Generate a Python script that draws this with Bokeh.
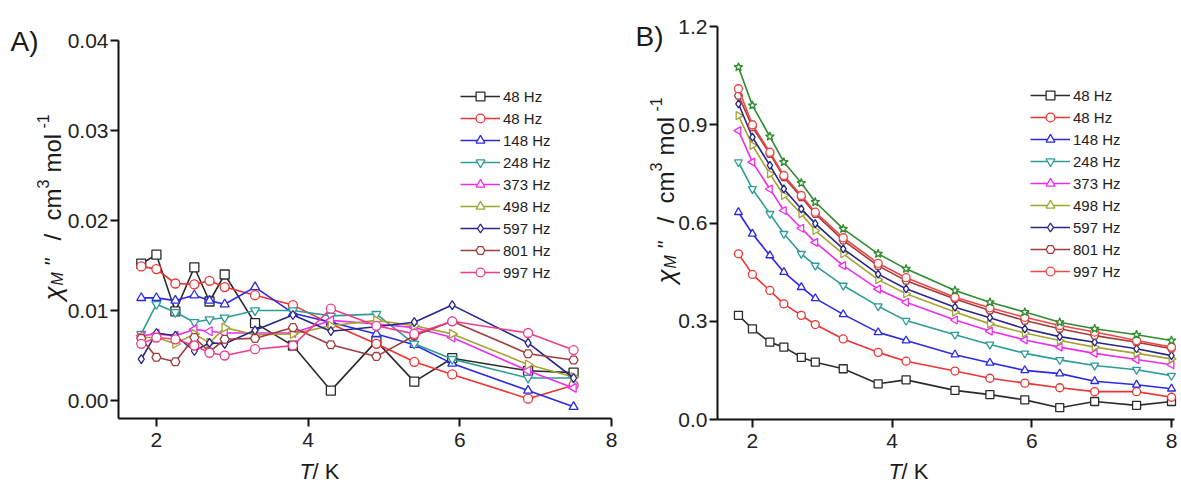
import numpy as np
from bokeh.plotting import figure
from bokeh.models import Range1d, Label, Legend, LegendItem, FixedTicker, NumeralTickFormatter
from bokeh.layouts import row
from bokeh.embed import file_html
from bokeh.resources import INLINE

FONT = "Liberation Sans"

# ---------------- data ----------------
series_labels = ["48 Hz", "48 Hz", "148 Hz", "248 Hz", "373 Hz", "498 Hz", "597 Hz", "801 Hz", "997 Hz"]

T_A = [1.8, 2.0, 2.25, 2.5, 2.7, 2.9, 3.3, 3.8, 4.3, 4.9, 5.4, 5.9, 6.9, 7.5]
A_48a = [0.0152, 0.0162, 0.0099, 0.0148, 0.0110, 0.0140, 0.0086, 0.0061, 0.0011, 0.0066, 0.0021, 0.0047, 0.0033, 0.0031]
A_48b = [0.0149, 0.0146, 0.0130, 0.0129, 0.0133, 0.0126, 0.0117, 0.0106, 0.0085, 0.0063, 0.0043, 0.0029, 0.0002, 0.0017]
A_148 = [0.0114, 0.0114, 0.0111, 0.0117, 0.0111, 0.0107, 0.0126, 0.0097, 0.0087, 0.0074, 0.0062, 0.0041, 0.0011, -0.0007]
A_248 = [0.0074, 0.0107, 0.0098, 0.0087, 0.0090, 0.0092, 0.0100, 0.0100, 0.0094, 0.0096, 0.0063, 0.0046, 0.0025, 0.0025]
A_373 = [0.0072, 0.0074, 0.0072, 0.0079, 0.0077, 0.0075, 0.0075, 0.0075, 0.0089, 0.0085, 0.0081, 0.0070, 0.0033, 0.0014]
A_498 = [0.0070, 0.0070, 0.0063, 0.0074, 0.0064, 0.0081, 0.0073, 0.0074, 0.0083, 0.0089, 0.0083, 0.0074, 0.0040, 0.0026]
A_597 = [0.0046, 0.0075, 0.0072, 0.0055, 0.0064, 0.0063, 0.0078, 0.0095, 0.0077, 0.0082, 0.0087, 0.0106, 0.0064, 0.0025]
A_801 = [0.0069, 0.0048, 0.0043, 0.0070, 0.0054, 0.0068, 0.0069, 0.0081, 0.0062, 0.0049, 0.0072, 0.0088, 0.0052, 0.0045]
A_997 = [0.0063, 0.0070, 0.0068, 0.0061, 0.0053, 0.0050, 0.0057, 0.0061, 0.0102, 0.0083, 0.0074, 0.0088, 0.0075, 0.0056]

T_B = [1.8, 2.0, 2.25, 2.45, 2.7, 2.9, 3.3, 3.8, 4.2, 4.9, 5.4, 5.9, 6.4, 6.9, 7.5, 8.0]
B_48a = [0.318, 0.277, 0.236, 0.221, 0.190, 0.175, 0.155, 0.109, 0.121, 0.089, 0.076, 0.060, 0.036, 0.055, 0.043, 0.055]
B_48b = [0.506, 0.443, 0.394, 0.353, 0.318, 0.290, 0.246, 0.205, 0.178, 0.148, 0.126, 0.111, 0.097, 0.085, 0.085, 0.068]
B_148 = [0.633, 0.567, 0.501, 0.450, 0.404, 0.370, 0.321, 0.266, 0.241, 0.198, 0.173, 0.150, 0.140, 0.117, 0.106, 0.094]
B_248 = [0.786, 0.704, 0.628, 0.567, 0.506, 0.470, 0.409, 0.346, 0.302, 0.259, 0.229, 0.202, 0.182, 0.165, 0.152, 0.134]
B_373 = [0.882, 0.786, 0.704, 0.638, 0.584, 0.541, 0.470, 0.398, 0.358, 0.304, 0.270, 0.243, 0.221, 0.202, 0.183, 0.167]
B_498 = [0.928, 0.837, 0.750, 0.684, 0.628, 0.577, 0.506, 0.427, 0.384, 0.328, 0.292, 0.264, 0.241, 0.221, 0.202, 0.185]
B_597 = [0.964, 0.862, 0.776, 0.704, 0.643, 0.598, 0.521, 0.444, 0.399, 0.343, 0.311, 0.277, 0.253, 0.236, 0.216, 0.195]
B_801 = [0.989, 0.893, 0.811, 0.740, 0.679, 0.628, 0.547, 0.469, 0.424, 0.368, 0.333, 0.302, 0.277, 0.256, 0.236, 0.216]
B_997 = [1.010, 0.900, 0.816, 0.745, 0.684, 0.633, 0.555, 0.477, 0.433, 0.373, 0.341, 0.312, 0.287, 0.267, 0.241, 0.221]
B_top = [1.076, 0.959, 0.864, 0.786, 0.722, 0.664, 0.582, 0.506, 0.460, 0.394, 0.358, 0.328, 0.297, 0.277, 0.259, 0.241]

x_ticks = [2, 4, 6, 8]
yA_ticks = [0.0, 0.01, 0.02, 0.03, 0.04]
yB_ticks = [0.0, 0.3, 0.6, 0.9, 1.2]

# ---------------- styles ----------------
STYLES_A = [
    ("#2b2b2b", "square", 0.0),
    ("#ee3333", "circle", 0.0),
    ("#2a2ae6", "triangle", 0.0),
    ("#2e9c96", "inverted_triangle", 0.0),
    ("#ee2cee", "triangle", np.pi / 2),
    ("#a3a332", "triangle", -np.pi / 2),
    ("#26268c", "diamond", 0.0),
    ("#a03c3c", "hex", 0.0),
    ("#f03c8c", "circle", 0.0),
]
STYLES_B = list(STYLES_A)
STYLES_B[8] = ("#f04646", "circle", 0.0)
STAR_STYLE = ("#2e8b2e", "star", 0.0)

H = 484
SPLIT = 628


def make_fig(width, canvas_x0, frame_px, data_x, frame_py, data_y, xbounds, ybounds):
    """Frame covers the whole canvas; axes are drawn at fixed locations."""
    (px0, px1), (dx0, dx1) = frame_px, data_x
    (py0, py1), (dy0, dy1) = frame_py, data_y  # py0 = pixel of dy0 (bottom), py1 = pixel of dy1 (top)
    sx = (px1 - px0) / (dx1 - dx0)
    sy = (py0 - py1) / (dy1 - dy0)
    x_start = dx0 - (px0 - canvas_x0) / sx
    x_end = dx0 + (canvas_x0 + width - px0) / sx
    y_start = dy0 - (H - py0) / sy
    y_end = dy0 + py0 / sy
    p = figure(width=width, height=H, x_range=Range1d(x_start, x_end), y_range=Range1d(y_start, y_end),
               output_backend="svg", toolbar_location=None,
               min_border_left=0, min_border_right=0, min_border_top=0, min_border_bottom=0)
    p.grid.visible = False
    p.outline_line_color = None
    p.background_fill_color = "white"
    p.border_fill_color = "white"
    p.xaxis[0].fixed_location = dy0
    p.yaxis[0].fixed_location = dx0
    p.xaxis[0].bounds = xbounds
    p.yaxis[0].bounds = ybounds
    for ax in (p.xaxis[0], p.yaxis[0]):
        ax.axis_line_width = 2
        ax.axis_line_color = "#111111"
        ax.major_tick_line_width = 2
        ax.major_tick_line_color = "#111111"
        ax.major_tick_out = 8
        ax.major_tick_in = 0
        ax.minor_tick_line_color = None
        ax.major_label_text_font = FONT
        ax.major_label_text_font_size = "21px"
        ax.major_label_text_color = "#222222"
    p.xaxis[0].ticker = FixedTicker(ticks=x_ticks)
    p.xaxis[0].formatter = NumeralTickFormatter(format="0")
    p.xaxis[0].major_label_standoff = 6
    p.yaxis[0].major_label_standoff = 2

    def conv(px, py):
        return dx0 + (px - px0) / sx, dy0 + (py0 - py) / sy
    return p, conv


def add_series(p, T, ys, styles, names, size):
    items = []
    for y, (col, mk, ang), name in zip(ys, styles, names):
        ln = p.line(T, y, line_color=col, line_width=1.6)
        sc = p.scatter(T, y, marker=mk, angle=ang, size=size, line_color=col,
                       fill_color="white", line_width=1.3)
        if name is not None:
            items.append(LegendItem(label=name, renderers=[ln, sc]))
    return items


def add_legend(p, items, loc):
    lg = Legend(items=items, location=loc, padding=0, margin=0, spacing=0,
                glyph_width=40, glyph_height=22, label_height=22, label_standoff=3,
                label_text_font=FONT, label_text_font_size="15px", label_text_color="#222222",
                border_line_color=None, background_fill_alpha=0)
    p.add_layout(lg)


def label(p, conv, px, py, text, size, italic=False, angle=0.0):
    x, y = conv(px, py)
    p.add_layout(Label(x=x, y=y, text=text, angle=angle, text_font=FONT,
                       text_font_size=f"{size}px",
                       text_font_style="italic" if italic else "normal",
                       text_align="left", text_baseline="alphabetic", text_color="#1a1a1a"))


def y_label(p, conv, bx, y0):
    a = np.pi / 2
    pieces = [
        ("\u03c7", 26, True, 0, 0),
        ("M", 16, True, 5, 15),
        ('"', 22, True, 0, 34),
        ("/", 24, False, 0, 60),
        ("cm", 24, False, 0, 80),
        ("3", 16, False, -10, 112),
        ("mol", 24, False, 0, 128),
        ("-1", 16, False, -10, 172),
    ]
    for txt, sz, it, dx, dy in pieces:
        label(p, conv, bx + dx, y0 - dy, txt, sz, it, a)


# ---------------- panel A ----------------
pA, convA = make_fig(SPLIT, 0, (118, 611), (1.5, 8.0), (418, 40), (-0.002, 0.04),
                     (1.5, 8.0), (-0.002, 0.04))
pA.yaxis[0].ticker = FixedTicker(ticks=yA_ticks)
pA.yaxis[0].formatter = NumeralTickFormatter(format="0.00")
itemsA = add_series(pA, T_A, [A_48a, A_48b, A_148, A_248, A_373, A_498, A_597, A_801, A_997],
                    STYLES_A, series_labels, 9)
add_legend(pA, itemsA, (460, 201))
label(pA, convA, 10, 41, "A)", 28)
label(pA, convA, 299, 471, "T", 22, True)
label(pA, convA, 312, 471, " / K", 22)
y_label(pA, convA, 52, 300)

# ---------------- panel B ----------------
pB, convB = make_fig(1181 - SPLIT, SPLIT, (717, 1171), (1.5, 8.0), (419, 26), (0.0, 1.2),
                     (1.5, 8.04), (0.0, 1.2))
pB.yaxis[0].ticker = FixedTicker(ticks=yB_ticks)
pB.yaxis[0].formatter = NumeralTickFormatter(format="0.0")
itemsB = add_series(pB, T_B, [B_48a, B_48b, B_148, B_248, B_373, B_498, B_597, B_801, B_997],
                    STYLES_B, series_labels, 8)
add_series(pB, T_B, [B_top], [STAR_STYLE], [None], 9)
add_legend(pB, itemsB, (1030 - SPLIT, 202))
label(pB, convB, 635, 36, "B)", 28)
label(pB, convB, 888, 471, "T", 22, True)
label(pB, convB, 901, 471, " / K", 22)
y_label(pB, convB, 665, 283)

layout = row(pA, pB)
open("out.html", "w").write(file_html(layout, INLINE))
